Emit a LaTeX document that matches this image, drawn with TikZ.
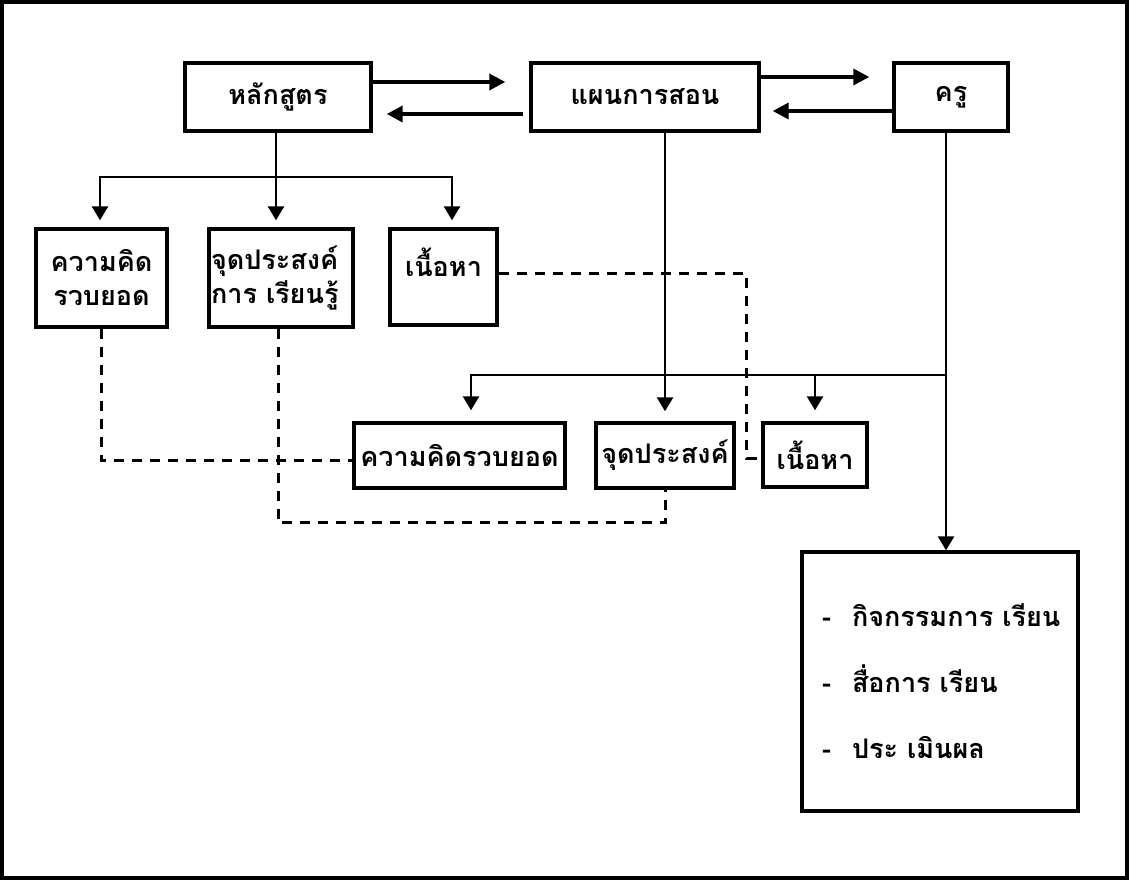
\documentclass[tikz,border=0pt]{standalone}
\usepackage{fontspec}
\newfontfamily\thaifont[Script=Thai]{Loma}
\usetikzlibrary{arrows.meta,calc}
\begin{document}
\begin{tikzpicture}[x=1pt,y=-1pt,
  txt/.style={font=\thaifont\bfseries\fontsize{27}{34}\selectfont},
  box/.style={draw, line width=3.4pt, inner sep=0pt, txt},
  conn/.style={line width=2.7pt},
  arr/.style={conn, -{Triangle[length=14pt,width=16pt]}},
  harr/.style={line width=3.6pt, -{Triangle[length=16pt,width=16pt]}},
  dsh/.style={line width=3pt, dash pattern=on 10pt off 8pt},
]
\useasboundingbox (0,0) rectangle (1130,885);
\fill[white] (0,0) rectangle (1130,885);
\draw[line width=3.6pt] (2,2) rectangle (1127,878);

% top row
\node[box, minimum width=186pt, minimum height=68pt] (hl) at (278,97) {หลักสูตร};
\node[box, minimum width=228pt, minimum height=68pt] (plan) at (645,97) {แผนการสอน};
\node[box, minimum width=114pt, minimum height=68pt] (kru) at (951,97) {ครู};

% second row
\node[box, minimum width=131pt, minimum height=98pt, align=center] (c1) at (101.5,278) {ความคิด\\รวบยอด};
\node[box, minimum width=144pt, minimum height=98pt, align=left, text width=140pt] (c2) at (281,278) {จุดประสงค์\\การ~เรียนรู้};
\node[box, minimum width=107pt, minimum height=96pt,
      label={[txt, anchor=center, yshift=15pt]center:เนื้อหา}] (c3) at (443.5,277) {};

% third row
\node[box, minimum width=211pt, minimum height=65pt] (d1) at (459.5,455.5) {ความคิดรวบยอด};
\node[box, minimum width=138pt, minimum height=65pt] (d2) at (665,455.5) {จุดประสงค์};
\node[box, minimum width=104pt, minimum height=64pt] (d3) at (815,455) {เนื้อหา};

% big box
\node[box, minimum width=276pt, minimum height=259pt, align=left, text width=236pt,
      font=\thaifont\bfseries\fontsize{27}{66}\selectfont] (big) at (940,681.5)
  {\makebox[30pt][l]{-}กิจกรรมการ~เรียน\\\makebox[30pt][l]{-}สื่อการ~เรียน\\\makebox[30pt][l]{-}ประ~เมินผล};

% arrows between top boxes
\draw[harr, shorten >=24pt] ([yshift=15pt]hl.east) -- ([yshift=15pt]plan.west);
\draw[harr, shorten <=6pt, shorten >=14pt] ([yshift=-17pt]plan.west) -- ([yshift=-17pt]hl.east);
\draw[harr, shorten >=23pt] ([yshift=20pt]plan.east) -- ([yshift=20pt]kru.west);
\draw[harr, shorten >=12pt] ([yshift=-14pt]kru.west) -- ([yshift=-14pt]plan.east);

% branching from curriculum
\coordinate (b1L) at (100,177);
\coordinate (b1R) at (452,177);
\draw[conn] ([xshift=-2pt]hl.south) -- ([xshift=-2pt]hl.south |- b1L);
\draw[conn, line cap=rect] (b1L) -- (b1R);
\draw[arr, shorten >=7pt] (b1L) -- (b1L |- c1.north);
\draw[arr, shorten >=7pt] ([xshift=-2pt]hl.south) -- ([xshift=-2pt]hl.south |- c2.north);
\draw[arr, shorten >=7pt] (b1R) -- (b1R |- c3.north);

% from lesson plan down
\draw[arr, shorten >=10pt] (d2.north |- plan.south) -- (d2.north);

% from teacher down
\coordinate (kd) at ([xshift=-5pt]kru.south);
\draw[arr] (kd) -- (kd |- big.north);
\coordinate (b2L) at (471,375);
\coordinate (b2R) at (kd |- b2L);
\draw[conn, line cap=rect] (b2L) -- (b2R);
\draw[arr, shorten >=11pt] (b2L) -- (b2L |- d1.north);
\coordinate (b2M) at (d3.north |- b2L);
\draw[arr, shorten >=11pt] (b2M) -- (d3.north);

% dashed links
\draw[dsh] (c1.south) |- ([yshift=-4.5pt]d1.west);
\draw[dsh] ([xshift=-3pt]c2.south) -- ++(0,194) -| (d2.south);
\draw[dsh] ([yshift=3pt]c3.east) -- ++(248,0) |- ([yshift=-3pt]d3.west);
\end{tikzpicture}
\end{document}
